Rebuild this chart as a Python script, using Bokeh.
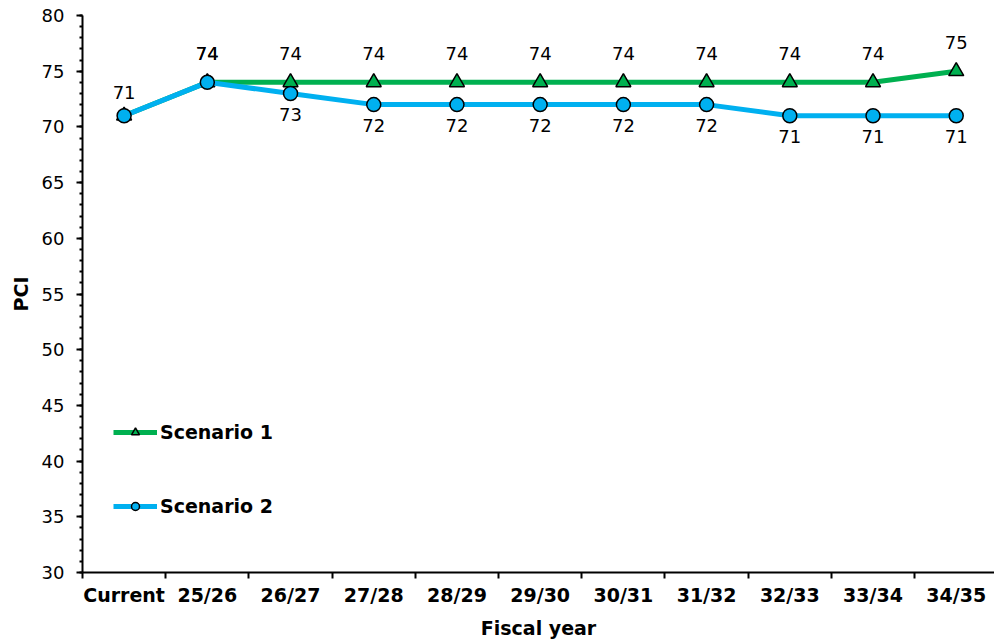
from bokeh.plotting import figure
from bokeh.models import (FixedTicker, SingleIntervalTicker, Range1d, Legend, LegendItem,
                          ColumnDataSource)
from bokeh.core.properties import value
from bokeh.embed import file_html
from bokeh.resources import INLINE

categories = ["Current", "25/26", "26/27", "27/28", "28/29", "29/30",
              "30/31", "31/32", "32/33", "33/34", "34/35"]
scenario1 = [71, 74, 74, 74, 74, 74, 74, 74, 74, 74, 75]
scenario2 = [71, 74, 73, 72, 72, 72, 72, 72, 71, 71, 71]

FONT = "DejaVu Sans"
GREEN = "#00B050"
BLUE = "#00B0F0"

xc = [i + 0.5 for i in range(len(categories))]

p = figure(width=994, height=643, output_backend="svg", toolbar_location=None,
           x_range=Range1d(0, 10.96), y_range=Range1d(30, 80),
           min_border_left=82, min_border_right=0, min_border_top=15, min_border_bottom=71,
           frame_width=912, frame_height=557)
p.outline_line_color = None
p.xgrid.visible = False
p.ygrid.visible = False
p.background_fill_color = "white"
p.border_fill_color = "white"

s1 = ColumnDataSource(dict(x=xc, y=scenario1, t=[str(v) for v in scenario1]))
s2 = ColumnDataSource(dict(x=xc, y=scenario2, t=[str(v) for v in scenario2]))
s1_lab = ColumnDataSource(dict(x=xc[1:], y=scenario1[1:], t=[str(v) for v in scenario1[1:]]))
s2_first = ColumnDataSource(dict(x=xc[:1], y=scenario2[:1], t=[str(v) for v in scenario2[:1]]))
s2_second = ColumnDataSource(dict(x=xc[1:2], y=scenario2[1:2], t=[str(v) for v in scenario2[1:2]]))
s2_below = ColumnDataSource(dict(x=xc[2:], y=scenario2[2:], t=[str(v) for v in scenario2[2:]]))

l1 = p.line("x", "y", source=s1, line_color=GREEN, line_width=5)
m1 = p.scatter("x", "y", source=s1, marker="triangle", size=15, fill_color=GREEN,
               line_color="black", line_width=1.5)
l2 = p.line("x", "y", source=s2, line_color=BLUE, line_width=5)
m2 = p.scatter("x", "y", source=s2, marker="circle", size=14, fill_color=BLUE,
               line_color="black", line_width=1.5)

def labels(src, off):
    p.text("x", "y", text="t", source=src, y_offset=off, text_align="center",
           text_baseline="middle", text_font=value(FONT), text_font_size="18px",
           text_color="black")

labels(s1_lab, -29)
labels(s2_first, -23)
labels(s2_second, -29)
labels(s2_below, 21)

# axes
xa = p.xaxis[0]
xa.ticker = FixedTicker(ticks=xc, minor_ticks=list(range(0, 12)))
xa.major_label_overrides = {x: c for x, c in zip(xc, categories)}
xa.major_tick_out = 0
xa.major_tick_in = 0
xa.minor_tick_out = 6
xa.minor_tick_in = 0
xa.minor_tick_line_width = 2
xa.minor_tick_line_color = "black"
xa.axis_line_width = 2
xa.axis_line_color = "black"
xa.major_label_text_font = FONT
xa.major_label_text_font_style = "bold"
xa.major_label_text_font_size = "19px"
xa.major_label_text_color = "black"
xa.major_label_standoff = 5
xa.axis_label = "Fiscal year"
xa.axis_label_text_font = FONT
xa.axis_label_text_font_style = "bold"
xa.axis_label_text_font_size = "19px"
xa.axis_label_text_color = "black"
xa.axis_label_standoff = 8

ya = p.yaxis[0]
ya.ticker = SingleIntervalTicker(interval=5, num_minor_ticks=5)
ya.major_tick_out = 6
ya.major_tick_in = 0
ya.minor_tick_out = 3
ya.minor_tick_in = 0
ya.major_tick_line_width = 2
ya.minor_tick_line_width = 2
ya.major_tick_line_color = "black"
ya.minor_tick_line_color = "black"
ya.axis_line_width = 2
ya.axis_line_color = "black"
ya.major_label_text_font = FONT
ya.major_label_text_font_size = "18px"
ya.major_label_text_color = "black"
ya.major_label_standoff = 12
ya.axis_label = "PCI"
ya.axis_label_text_font = FONT
ya.axis_label_text_font_style = "bold"
ya.axis_label_text_font_size = "19px"
ya.axis_label_text_color = "black"
ya.axis_label_standoff = 7

legend = Legend(items=[LegendItem(label="Scenario 1", renderers=[l1, m1]),
                       LegendItem(label="Scenario 2", renderers=[l2, m2])],
                location=(31, 55), orientation="vertical",
                glyph_width=44, glyph_height=20, label_height=20, spacing=52,
                label_standoff=3, padding=0, margin=0,
                border_line_alpha=0, background_fill_alpha=0,
                label_text_font=FONT, label_text_font_style="bold",
                label_text_font_size="19px", label_text_color="black")
p.add_layout(legend)

open("out.html", "w").write(file_html(p, INLINE))
